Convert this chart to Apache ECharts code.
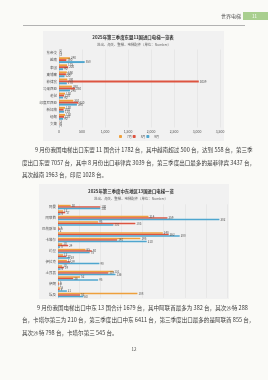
<!DOCTYPE html>
<html>
<head>
<meta charset="utf-8">
<script src="https://cdn.jsdelivr.net/npm/echarts@6/dist/echarts.min.js"></script>
<style>
html, body { margin: 0; padding: 0; background: #fafaf7; }
#page { width: 268px; height: 380px; }
</style>
</head>
<body>
<div id="page"></div>
<script>
// 东盟11国（7月、8月、9月）
const aseanCountries = ['东帝汶', '越南', '泰国', '柬埔寨', '菲律宾', '马来西亚', '老挝', '印度尼西亚', '新加坡', '缅甸', '文莱']
const aseanJul = [2, 240, 175, 170, 180, 280, 130, 310, 130, 130, 3]
const aseanAug = [5, 160, 200, 150, 3039, 350, 110, 420, 100, 110, 6]
const aseanSep = [3, 558, 90, 120, 170, 240, 90, 390, 110, 90, 4]

// 中东地区
const meCountries = ['阿曼', '也门', '阿联酋', '以色列', '巴勒斯坦', '沙特阿拉伯', '卡塔尔', '塞浦路斯', '约旦',
  '阿塞拜疆', '伊拉克', '巴林', '土耳其', '科威特', '伊朗', '亚美尼亚', '埃及']
const meJul = [30, 12, 214, 95, 3, 248, 195, 10, 65, 12, 21, 10, 131, 52, 2, 6, 188]
const meAug = [100, 17, 259, 183, 5, 262, 140, 24, 80, 20, 29, 14, 119, 36, 3, 4, 52]
const meSep = [100, 6, 382, 131, 2, 288, 210, 5, 75, 28, 98, 6, 136, 95, 1, 21, 60]

const months = ['7月', '8月', '9月']

// 正文
const para1 = [
  '9 月份我国电梯出口东盟 11 国合计 1782 台，其中越南超过 500 台，达到 558 台，第三季',
  '度出口东盟 7057 台，其中 8 月份出口菲律宾 3039 台，第三季度出口最多的是菲律宾 3437 台，',
  '其次越南 1963 台，印尼 1028 台。'
]
const para2 = [
  '9 月份我国电梯出口中东 13 国合计 1679 台，其中阿联酋最多为 382 台，其次沙特 288',
  '台，卡塔尔第三为 210 台，第三季度出口中东 6411 台，第三季度出口最多的是阿联酋 855 台，',
  '其次沙特 798 台，卡塔尔第三 545 台。'
]

const colors = ['#eea03c', '#dd5440', '#4ea6cf']
const font = '"Noto Sans CJK SC", "Noto Sans", sans-serif'

let chart = echarts.init(document.getElementById('page'), null, { renderer: 'canvas' })

// 文字元素
function txt(x, y, text, size, fill, align, weight) {
  return {
    type: 'text', x: x, y: y, z: 10,
    style: {
      text: text, fontSize: size, fontFamily: font, fill: fill,
      textAlign: align || 'left', textVerticalAlign: 'middle', fontWeight: weight || 'normal'
    }
  }
}

let graphics = [
  // 页眉
  txt(221, 16, '世界电梯', 5, '#555'),
  { type: 'rect', z: 1, shape: { x: 243, y: 12, width: 25, height: 8 }, style: { fill: '#a9cf8f' } },
  txt(252, 16, '11', 4.5, '#fff'),
  { type: 'line', z: 1, shape: { x1: 23, y1: 25.5, x2: 245, y2: 25.5 }, style: { stroke: '#a0a0a0', lineWidth: 0.8 } },
  // 图表背景
  { type: 'rect', z: -10, shape: { x: 43, y: 31, width: 181, height: 110 }, style: { fill: '#f1f1f1' } },
  { type: 'rect', z: -10, shape: { x: 39, y: 184, width: 190, height: 115 }, style: { fill: '#f1f1f1' } },
  txt(133, 37.5, '2025年第三季度东盟11国进口电梯一览表', 4.4, '#333', 'center', 'bold'),
  txt(134, 45, '进出、海关、整梯、电梯配件（单位：Number）', 3.4, '#666', 'center'),
  txt(131, 191.5, '2025年第三季度中东地区13国进口电梯一览', 4.4, '#333', 'center', 'bold'),
  txt(131, 198.5, '进出、海关、整梯、电梯配件（单位：Number）', 3.4, '#666', 'center'),
  // 页码
  txt(134, 349, '12', 4.5, '#444', 'center')
]

// 段落，首行缩进
para1.forEach((line, i) => graphics.push(txt(i === 0 ? 35 : 22, 150 + i * 12.5, line, 5.55, '#3a3a3a')))
para2.forEach((line, i) => graphics.push(txt(i === 0 ? 37 : 22, 307.5 + i * 12.8, line, 5.55, '#3a3a3a')))

function barSeries(name, data, idx, axis) {
  return {
    name: name,
    type: 'bar',
    xAxisIndex: axis,
    yAxisIndex: axis,
    data: data,
    itemStyle: { color: colors[idx] },
    barGap: '0%',
    barCategoryGap: '18%',
    label: { show: true, position: 'right', fontSize: 3, color: '#555', distance: 1, fontFamily: font }
  }
}

let axisLabelStyle = { fontSize: 3.5, color: '#555', fontFamily: font, margin: 2 }

var option = {
  backgroundColor: '#fafaf7',
  animation: false,
  color: colors,
  graphic: graphics,
  legend: {
    data: months,
    left: 119,
    top: 135,
    itemWidth: 3,
    itemHeight: 3,
    itemGap: 1,
    textStyle: { fontSize: 3, color: '#555', fontFamily: font },
    padding: 0
  },
  grid: [
    { left: 59, right: 48, top: 49.5, height: 78 },
    { left: 58, right: 41, top: 204.3, height: 93.5 }
  ],
  xAxis: [
    {
      gridIndex: 0, type: 'value', min: 0, max: 3500, interval: 500,
      axisLabel: axisLabelStyle,
      splitLine: { lineStyle: { color: '#dcdcdc', width: 0.5 } },
      axisLine: { show: false }, axisTick: { show: false }
    },
    {
      gridIndex: 1, type: 'value', min: 0, max: 400, interval: 50,
      axisLabel: { show: false },
      splitLine: { lineStyle: { color: '#dcdcdc', width: 0.5 } },
      axisLine: { show: false }, axisTick: { show: false }
    }
  ],
  yAxis: [
    {
      gridIndex: 0, type: 'category', data: aseanCountries, inverse: true,
      axisLabel: axisLabelStyle,
      axisLine: { lineStyle: { color: '#bbb', width: 0.5 } }, axisTick: { show: false }
    },
    {
      gridIndex: 1, type: 'category', data: meCountries, inverse: true,
      axisLabel: axisLabelStyle,
      axisLine: { lineStyle: { color: '#bbb', width: 0.5 } }, axisTick: { show: false }
    }
  ],
  series: [
    barSeries(months[0], aseanJul, 0, 0),
    barSeries(months[1], aseanAug, 1, 0),
    barSeries(months[2], aseanSep, 2, 0),
    barSeries(months[0], meJul, 0, 1),
    barSeries(months[1], meAug, 1, 1),
    barSeries(months[2], meSep, 2, 1)
  ]
}
chart.setOption(option)
</script>
</body>
</html>
